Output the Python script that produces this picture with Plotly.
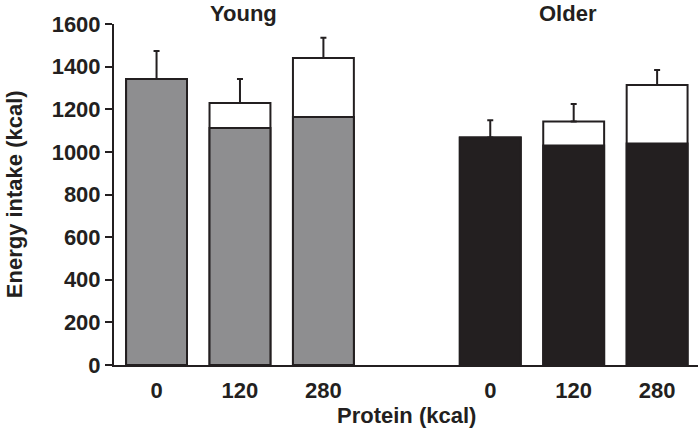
import plotly.graph_objects as go

groups = ["Young", "Older"]
doses = ["0", "120", "280"]
# Energy intake (kcal): total and food-only (base) portion
young_total = [1342, 1229, 1441]
young_base = [1342, 1112, 1164]
young_err = [131, 113, 94]
older_total = [1067, 1143, 1314]
older_base = [1067, 1030, 1039]
older_err = [81, 82, 70]
y_ticks = [0, 200, 400, 600, 800, 1000, 1200, 1400, 1600]

group_colors = ["#8e8e90", "#231f20"]
edge = "#231f20"

xs, totals, bases, errs, fills, labels = [], [], [], [], [], []
for g, (tot, bas, err) in enumerate([(young_total, young_base, young_err),
                                      (older_total, older_base, older_err)]):
    for i, d in enumerate(doses):
        xs.append(g * 4 + i)
        totals.append(tot[i])
        bases.append(bas[i])
        errs.append(err[i])
        fills.append(group_colors[g])
        labels.append(d)

fig = go.Figure()
fig.add_trace(go.Bar(
    x=xs, y=totals, width=0.73,
    marker=dict(color="white", line=dict(color=edge, width=2)),
    error_y=dict(type="data", array=errs, arrayminus=[0] * len(errs),
                 symmetric=False, color=edge, thickness=2, width=3),
    showlegend=False,
))
fig.add_trace(go.Bar(
    x=xs, y=bases, width=0.73,
    marker=dict(color=fills, line=dict(color=edge, width=2)),
    showlegend=False,
))

font_family = "Liberation Sans, Arial, sans-serif"
fig.update_layout(
    width=698, height=430,
    margin=dict(l=114, r=0, t=24, b=65, autoexpand=False),
    barmode="overlay",
    plot_bgcolor="white", paper_bgcolor="white",
    font=dict(family=font_family, size=22, color="#231f20"),
    xaxis=dict(range=[-0.51, 6.49], tickvals=xs, ticktext=labels,
               showline=True, linecolor=edge, linewidth=2, ticks="",
               showgrid=False, zeroline=False, ticklabelstandoff=5,
               tickfont=dict(size=22, family=font_family, weight="bold")),
    yaxis=dict(range=[0, 1600], tickvals=y_ticks, showline=True,
               linecolor=edge, linewidth=2, ticks="outside", ticklen=7,
               tickwidth=2, tickcolor=edge, showgrid=False, zeroline=False,
               tickfont=dict(size=22, family=font_family, weight="bold")),
)

shifts = [4, -6]
for g, name in enumerate(groups):
    fig.add_annotation(x=g * 4 + 1, y=1, xref="x", yref="paper",
                       yanchor="bottom", yshift=-4, xshift=shifts[g],
                       showarrow=False, text="<b>%s</b>" % name,
                       font=dict(size=22, family=font_family, color=edge))

fig.add_annotation(x=0.5, y=0, xref="paper", yref="paper", yanchor="middle",
                   yshift=-50, showarrow=False, text="<b>Protein (kcal)</b>",
                   font=dict(size=22, family=font_family, color=edge))
fig.add_annotation(x=-0.17, y=0.5, xref="paper", yref="paper",
                   xanchor="center", yanchor="middle", textangle=-90,
                   showarrow=False, text="<b>Energy intake (kcal)</b>",
                   font=dict(size=22, family=font_family, color=edge))

fig.write_html(
    "out.html",
    config={"displayModeBar": False},
    post_script="document.body.style.margin='0';"
                "document.body.style.overflow='hidden';",
)
